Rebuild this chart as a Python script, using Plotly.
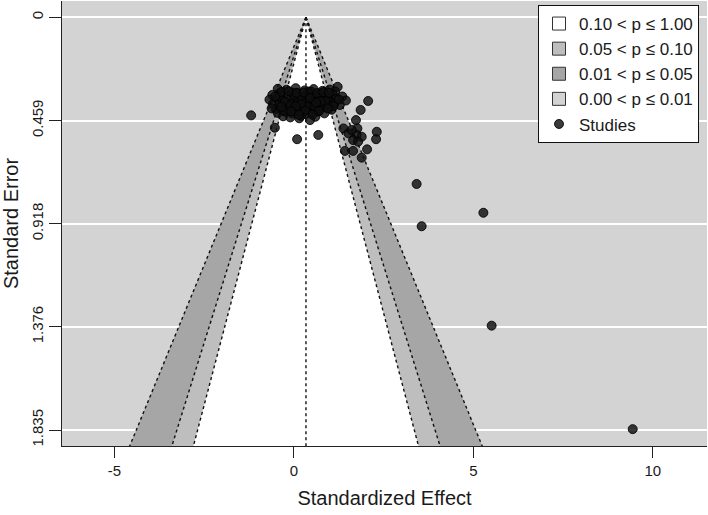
import plotly.graph_objects as go

# ---------------- data ----------------
center_effect = 0.337
se_tick_vals = [0, 0.459, 0.918, 1.376, 1.835]
se_tick_text = ["0", "0.459", "0.918", "1.376", "1.835"]
x_tick_vals = [-5, 0, 5, 10]
x_tick_text = ["-5", "0", "5", "10"]

contour_z = [2.576, 1.960, 1.645]            # p = 0.01, 0.05, 0.10
contour_fill = ["#a6a6a6", "#bebebe", "#ffffff"]

legend_labels = ["0.10 < p ≤ 1.00", "0.05 < p ≤ 0.10", "0.01 < p ≤ 0.05", "0.00 < p ≤ 0.01"]
legend_colors = ["#ffffff", "#bebebe", "#a6a6a6", "#d3d3d3"]

effect = [
    3.42, 5.28, 3.56, 5.51, 9.44,
    -1.19, -0.53, 0.09, 0.15, 0.45, 0.68, -0.50, 2.07, 1.86, 1.73, 1.22, 1.77, 2.31, 2.29,
    2.04, 1.89, 1.65, 1.42, 1.38, 1.52, 1.75, 1.89, 1.65, 1.79, 1.61, 1.28,
    -0.45, -0.20, 0.05, 0.30, 0.55, 0.80, 1.00, 1.15,
    -0.60, -0.38, -0.15, 0.10, 0.22, 0.42, 0.62, 0.75, 0.92, 1.08, 1.35,
    -0.68, -0.48, -0.30, -0.08, 0.04, 0.18, 0.35, 0.50, 0.68, 0.85, 1.00, 1.18, 1.45,
    -0.58, -0.40, -0.22, -0.02, 0.12, 0.28, 0.45, 0.60, 0.78, 0.95, 1.12,
    -0.62, -0.35, -0.12, 0.06, 0.24, 0.38, 0.55, 0.72, 0.90, 1.05,
    -0.45, -0.25, -0.05, 0.15, 0.32, 0.50, 0.68, 0.85,
    -0.30, -0.10, 0.20, 0.60,
    0.00, 0.30, 0.50, 0.15, -0.20, 0.70, 0.40, -0.05, 0.90, 0.25, 0.10, 0.60,
    -0.40, -0.25, -0.10, 0.02, 0.12, 0.22, 0.34, 0.44, 0.56, 0.66, 0.78, 0.88,
    -0.35, -0.15, 0.08, 0.28, 0.48, 0.65, 0.82, 0.98,
    -0.28, -0.02, 0.18, 0.38, 0.58, 0.75, 0.20, 0.45, 0.05, 0.62,
    -0.52, -0.08, 0.32, 0.70, 1.10, 1.25, 0.95, -0.35, 0.52, 0.14,
]
se = [
    0.741, 0.869, 0.929, 1.371, 1.831,
    0.436, 0.491, 0.542, 0.449, 0.457, 0.523, 0.408, 0.372, 0.412, 0.457, 0.309, 0.494, 0.509, 0.542,
    0.587, 0.624, 0.594, 0.594, 0.494, 0.516, 0.523, 0.531, 0.546, 0.553, 0.501, 0.390,
    0.318, 0.322, 0.315, 0.325, 0.319, 0.327, 0.321, 0.330,
    0.345, 0.341, 0.348, 0.338, 0.352, 0.343, 0.350, 0.339, 0.347, 0.344, 0.352,
    0.366, 0.362, 0.370, 0.360, 0.372, 0.364, 0.368, 0.361, 0.373, 0.365, 0.369, 0.362, 0.370,
    0.385, 0.381, 0.388, 0.383, 0.392, 0.379, 0.386, 0.390, 0.382, 0.389, 0.384,
    0.405, 0.410, 0.402, 0.408, 0.400, 0.412, 0.404, 0.409, 0.401, 0.411,
    0.425, 0.420, 0.428, 0.422, 0.430, 0.424, 0.419, 0.427,
    0.440, 0.445, 0.438, 0.442,
    0.370, 0.390, 0.375, 0.355, 0.400, 0.395, 0.330, 0.335, 0.355, 0.380, 0.400, 0.365,
    0.352, 0.376, 0.392, 0.347, 0.378, 0.358, 0.384, 0.349, 0.377, 0.357, 0.393, 0.374,
    0.332, 0.329, 0.336, 0.334, 0.331, 0.337, 0.333, 0.336,
    0.414, 0.416, 0.415, 0.398, 0.396, 0.374, 0.386, 0.359, 0.396, 0.379,
    0.352, 0.418, 0.415, 0.417, 0.395, 0.365, 0.405, 0.398, 0.432, 0.434,
]

# ---------------- figure ----------------
FONT = "Liberation Sans, Arial, Helvetica, sans-serif"
TXT = "#1a1a1a"
se_far = 2.2
fig = go.Figure()

for z, col in zip(contour_z, contour_fill):
    fig.add_trace(go.Scatter(
        x=[center_effect, center_effect - z * se_far, center_effect + z * se_far, center_effect],
        y=[0, se_far, se_far, 0],
        mode="lines", fill="toself", fillcolor=col,
        line=dict(width=0), hoverinfo="skip", showlegend=False))

for z in contour_z:
    for sgn in (-1, 1):
        fig.add_trace(go.Scatter(
            x=[center_effect, center_effect + sgn * z * se_far], y=[0, se_far],
            mode="lines", line=dict(color="#111111", width=1.4, dash="dot"),
            hoverinfo="skip", showlegend=False))

fig.add_trace(go.Scatter(
    x=[center_effect, center_effect], y=[0, se_far], mode="lines",
    line=dict(color="#111111", width=1.4, dash="dot"), hoverinfo="skip", showlegend=False))

for lab, col in zip(legend_labels, legend_colors):
    fig.add_trace(go.Scatter(
        x=[None], y=[None], mode="markers", name=lab,
        marker=dict(symbol="square", size=13, color=col, line=dict(color="#333333", width=1))))

fig.add_trace(go.Scatter(
    x=effect, y=se, mode="markers", name="Studies",
    marker=dict(size=9, color="rgba(15,15,15,0.82)", line=dict(color="rgba(0,0,0,0.85)", width=1))))

fig.update_layout(
    width=708, height=515,
    margin=dict(l=62, r=1, t=1, b=69, autoexpand=False),
    paper_bgcolor="white", plot_bgcolor="#d3d3d3",
    font=dict(family=FONT, size=15, color=TXT),
    legend=dict(x=0.738, y=0.991, xanchor="left", yanchor="top",
                bgcolor="white", bordercolor="#111111", borderwidth=1,
                font=dict(size=17, family=FONT, color=TXT),
                itemwidth=30, tracegroupgap=0),
)
fig.update_xaxes(
    range=[-6.46, 11.51], tickvals=x_tick_vals, ticktext=x_tick_text,
    showgrid=False, zeroline=False,
    showline=True, linecolor="#222222", linewidth=1, automargin=False,
    ticks="outside", ticklen=11, tickcolor="#222222",
    tickfont=dict(size=15, family=FONT, color=TXT),
    title=dict(text="Standardized Effect", font=dict(size=20, family=FONT, color=TXT), standoff=12))
fig.update_yaxes(
    range=[1.906, -0.0725], tickvals=se_tick_vals, ticktext=se_tick_text,
    showgrid=True, gridcolor="white", gridwidth=1.5, zeroline=False,
    showline=True, linecolor="#222222", linewidth=1, automargin=False,
    ticks="outside", ticklen=12, tickcolor="#222222", tickangle=-90,
    tickfont=dict(size=15, family=FONT, color=TXT),
    title=dict(text="Standard Error", font=dict(size=20, family=FONT, color=TXT), standoff=8))

fig.write_html("out.html", config={"displayModeBar": False},
               post_script="document.body.style.margin='0';")
